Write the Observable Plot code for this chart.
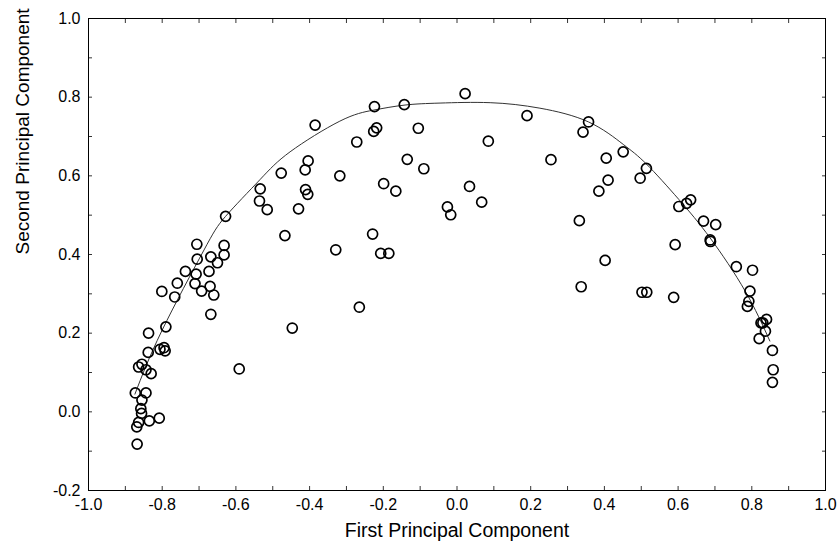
<!DOCTYPE html>
<html>
<head>
<meta charset="utf-8">
<script src="https://cdn.jsdelivr.net/npm/d3@7"></script>
<script src="https://cdn.jsdelivr.net/npm/@observablehq/plot@0.6"></script>
<style>
  html, body { margin: 0; padding: 0; background: #fff; }
  #chart svg { display: block; }
</style>
</head>
<body>
<div id="chart"></div>
<script>
// Observed scores (first and second principal component)
const pcX = [
  -0.706, -0.632, -0.705, -0.668, -0.632, -0.650, -0.737, -0.708, -0.673, -0.711,
  -0.759, -0.693, -0.670, -0.660, -0.801, -0.766, -0.668, -0.790, -0.837, -0.806,
  -0.795, -0.792, -0.838, -0.591, -0.855, -0.864, -0.844, -0.830, -0.873, -0.844,
  -0.855, -0.858, -0.856, -0.864, -0.869, -0.835, -0.808, -0.868, -0.628,
  0.022, -0.224, -0.143, -0.385, -0.218, -0.226, -0.105, -0.272, 0.085, -0.404,
  -0.412, -0.477, -0.318, -0.135, -0.090, -0.534, -0.536, -0.515, -0.411, -0.405,
  -0.430, -0.199, -0.166, 0.034, 0.067, -0.026, -0.017, -0.467, -0.229, -0.329,
  -0.207, -0.185, -0.265, -0.447,
  0.190, 0.357, 0.342, 0.255, 0.405, 0.451, 0.514, 0.497, 0.410, 0.385,
  0.602, 0.332, 0.592, 0.402, 0.337, 0.502, 0.515, 0.588,
  0.623, 0.634, 0.669, 0.702, 0.687, 0.688, 0.758, 0.802, 0.795, 0.792,
  0.788, 0.840, 0.825, 0.830, 0.837, 0.820, 0.856, 0.858, 0.856
];
const pcY = [
  0.426, 0.423, 0.388, 0.394, 0.399, 0.379, 0.357, 0.350, 0.357, 0.326,
  0.327, 0.307, 0.319, 0.297, 0.306, 0.292, 0.248, 0.216, 0.200, 0.159,
  0.163, 0.155, 0.151, 0.109, 0.121, 0.114, 0.107, 0.097, 0.048, 0.048,
  0.030, 0.008, -0.004, -0.027, -0.038, -0.023, -0.016, -0.082, 0.497,
  0.809, 0.776, 0.781, 0.729, 0.722, 0.713, 0.721, 0.686, 0.688, 0.638,
  0.615, 0.607, 0.600, 0.642, 0.618, 0.567, 0.536, 0.514, 0.565, 0.553,
  0.516, 0.580, 0.561, 0.573, 0.533, 0.521, 0.501, 0.448, 0.452, 0.412,
  0.403, 0.403, 0.266, 0.213,
  0.753, 0.737, 0.711, 0.641, 0.645, 0.661, 0.619, 0.594, 0.589, 0.561,
  0.522, 0.486, 0.425, 0.385, 0.318, 0.304, 0.304, 0.291,
  0.530, 0.539, 0.485, 0.476, 0.437, 0.433, 0.369, 0.360, 0.307, 0.281,
  0.268, 0.235, 0.226, 0.226, 0.205, 0.186, 0.156, 0.107, 0.075
];

// Fitted arch
const fitX = [-0.874, -0.801, -0.688, -0.628, -0.535, -0.453, -0.318, -0.227, -0.141, -0.046,
  0.090, 0.225, 0.357, 0.451, 0.514, 0.602, 0.687, 0.782, 0.849];
const fitY = [0.045, 0.206, 0.409, 0.497, 0.590, 0.661, 0.739, 0.767, 0.780, 0.785,
  0.786, 0.772, 0.737, 0.680, 0.630, 0.540, 0.442, 0.307, 0.180];

// Axis ticks and labels
const xMajor = [-1.0, -0.8, -0.6, -0.4, -0.2, 0.0, 0.2, 0.4, 0.6, 0.8, 1.0];
const yMajor = [-0.2, 0.0, 0.2, 0.4, 0.6, 0.8, 1.0];
const xMinor = [-1.0, -0.9, -0.8, -0.7, -0.6, -0.5, -0.4, -0.3, -0.2, -0.1, 0.0, 0.1, 0.2, 0.3, 0.4, 0.5, 0.6, 0.7, 0.8, 0.9, 1.0];
const yMinor = [-0.2, -0.1, 0.0, 0.1, 0.2, 0.3, 0.4, 0.5, 0.6, 0.7, 0.8, 0.9, 1.0];
const xTitle = "First Principal Component";
const yTitle = "Second Principal Component";

const points = pcX.map((x, i) => ({x, y: pcY[i]}));
const fit = fitX.map((x, i) => ({x, y: fitY[i]}));
const fmt = d => (Math.abs(d) < 1e-9 ? 0 : d).toFixed(1);

const chart = Plot.plot({
  width: 840,
  height: 548,
  marginLeft: 88,
  marginRight: 15,
  marginTop: 18,
  marginBottom: 58,
  style: {fontFamily: "'Liberation Sans', Arial, sans-serif", fontSize: "16px", color: "#000", background: "#fff"},
  x: {domain: [-1, 1]},
  y: {domain: [-0.2, 1.0]},
  marks: [
    Plot.axisX({anchor: "bottom", ticks: xMinor, tickSize: -4, tickFormat: () => "", label: null, strokeWidth: 0.8}),
    Plot.axisX({anchor: "top", ticks: xMinor, tickSize: -4, tickFormat: () => "", label: null, strokeWidth: 0.8}),
    Plot.axisY({anchor: "left", ticks: yMinor, tickSize: -4, tickFormat: () => "", label: null, strokeWidth: 0.8}),
    Plot.axisY({anchor: "right", ticks: yMinor, tickSize: -4, tickFormat: () => "", label: null, strokeWidth: 0.8}),
    Plot.axisX({anchor: "bottom", ticks: xMajor, tickSize: 0, tickPadding: 8, tickFormat: fmt, label: null, fontSize: 16}),
    Plot.axisY({anchor: "left", ticks: yMajor, tickSize: 0, tickPadding: 8, tickFormat: fmt, label: null, fontSize: 16}),
    Plot.frame({stroke: "#000", strokeWidth: 1}),
    Plot.line(fit, {x: "x", y: "y", curve: "natural", stroke: "#333", strokeWidth: 1}),
    Plot.dot(points, {x: "x", y: "y", r: 5, stroke: "#000", strokeWidth: 1.7, fill: "none"}),
    Plot.text([xTitle], {text: d => d, frameAnchor: "bottom", dy: 46, fontSize: 19.5}),
    Plot.text([yTitle], {text: d => d, frameAnchor: "left", dx: -66, rotate: -90, fontSize: 19})
  ]
});
document.getElementById("chart").appendChild(chart);
</script>
</body>
</html>
